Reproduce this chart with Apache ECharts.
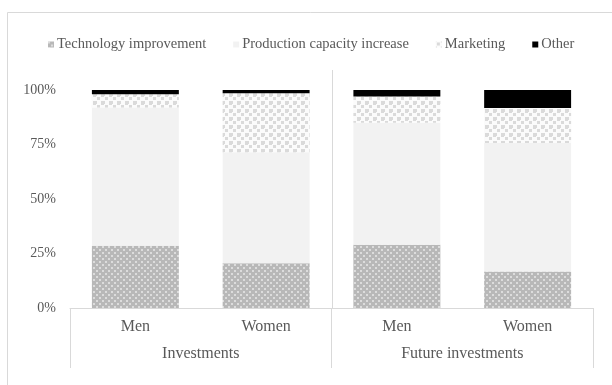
<!DOCTYPE html>
<html><head><meta charset="utf-8">
<script src="https://cdn.jsdelivr.net/npm/echarts@6/dist/echarts.min.js"></script>
<style>html,body{margin:0;padding:0;background:#fff}#c{width:612px;height:385px}</style>
</head><body><div id="c"></div>
<script>
const categories = ['Men', 'Women', 'Men', 'Women'];
const groups = ['Investments', 'Future investments'];
const seriesNames = ['Technology improvement', 'Production capacity increase', 'Marketing', 'Other'];
const tech = [28.5, 20.5, 29, 16.7];
const production = [63.5, 51, 56, 59];
const marketing = [6, 27, 12, 16];
const other = [2, 1.5, 3, 8.3];
const yTicks = [0, 25, 50, 75, 100];

function makePattern(size, bg, fg, cells) {
  const c = document.createElement('canvas');
  c.width = size; c.height = size;
  const g = c.getContext('2d');
  g.fillStyle = bg; g.fillRect(0, 0, size, size);
  g.fillStyle = fg;
  cells.forEach(([x, y, w, h]) => g.fillRect(x, y, w, h));
  return { image: c, repeat: 'repeat' };
}
const techPattern = makePattern(6, '#b8b8b8', '#dcdcdc', [[0,0,2,2],[3,3,2,2]]);
const marketPattern = makePattern(8, '#fbfbfb', '#dadada', [[1,1,3,3],[5,5,3,3],[0,5,1,3],[5,0,3,1]]);

const font = 'Liberation Serif, Times New Roman, serif';
const txt = '#595959';
const lineC = '#d9d9d9';

const chart = echarts.init(document.getElementById('c'), null, { renderer: 'canvas' });
const colors = [techPattern, '#f2f2f2', marketPattern, '#000000'];
const data = [tech, production, marketing, other];

chart.setOption({
  animation: false,
  backgroundColor: '#fff',
  textStyle: { fontFamily: font },
  legend: {
    top: 32, left: 43,
    icon: 'rect', itemWidth: 6, itemHeight: 6, itemGap: 27,
    textStyle: { fontFamily: font, fontSize: 14.5, color: txt, padding: [0, 0, 0, -2] },
    data: seriesNames
  },
  grid: { left: 70, right: 19, top: 90, bottom: 77 },
  xAxis: [
    {
      type: 'category', data: categories, position: 'bottom',
      axisLine: { show: true, lineStyle: { color: lineC } },
      axisTick: { show: false },
      axisLabel: { fontFamily: font, fontSize: 16, color: txt, margin: 11 }
    },
    {
      type: 'category', data: groups, position: 'bottom',
      axisLine: { show: false },
      axisTick: { show: true, length: 60, lineStyle: { color: lineC } },
      axisLabel: { fontFamily: font, fontSize: 16, color: txt, margin: 38 }
    }
  ],
  yAxis: {
    type: 'value', min: 0, max: 100, interval: 25,
    axisLine: { show: false }, axisTick: { show: false }, splitLine: { show: false },
    axisLabel: { fontFamily: font, fontSize: 14, color: txt, margin: 14, formatter: '{value}%' }
  },
  series: seriesNames.map((n, i) => ({
    name: n, type: 'bar', stack: 'total', xAxisIndex: 0,
    barWidth: '66.5%',
    itemStyle: { color: colors[i] },
    data: data[i]
  }))
});

// frame and group separator
const x1 = chart.convertToPixel({ xAxisIndex: 0 }, 1);
const x2 = chart.convertToPixel({ xAxisIndex: 0 }, 2);
const midX = Math.round((x1 + x2) / 2) + 0.5;
const yTop = chart.convertToPixel({ yAxisIndex: 0 }, yTicks[yTicks.length - 1]);
const yBot = chart.convertToPixel({ yAxisIndex: 0 }, yTicks[0]);
chart.setOption({
  graphic: [
    { type: 'rect', shape: { x: 7.5, y: 12.5, width: 700, height: 500 }, style: { fill: 'none', stroke: lineC, lineWidth: 1 }, silent: true },
    { type: 'line', shape: { x1: midX, y1: yTop - 20, x2: midX, y2: yBot }, style: { stroke: lineC, lineWidth: 1 }, silent: true }
  ]
});
</script>
</body></html>
